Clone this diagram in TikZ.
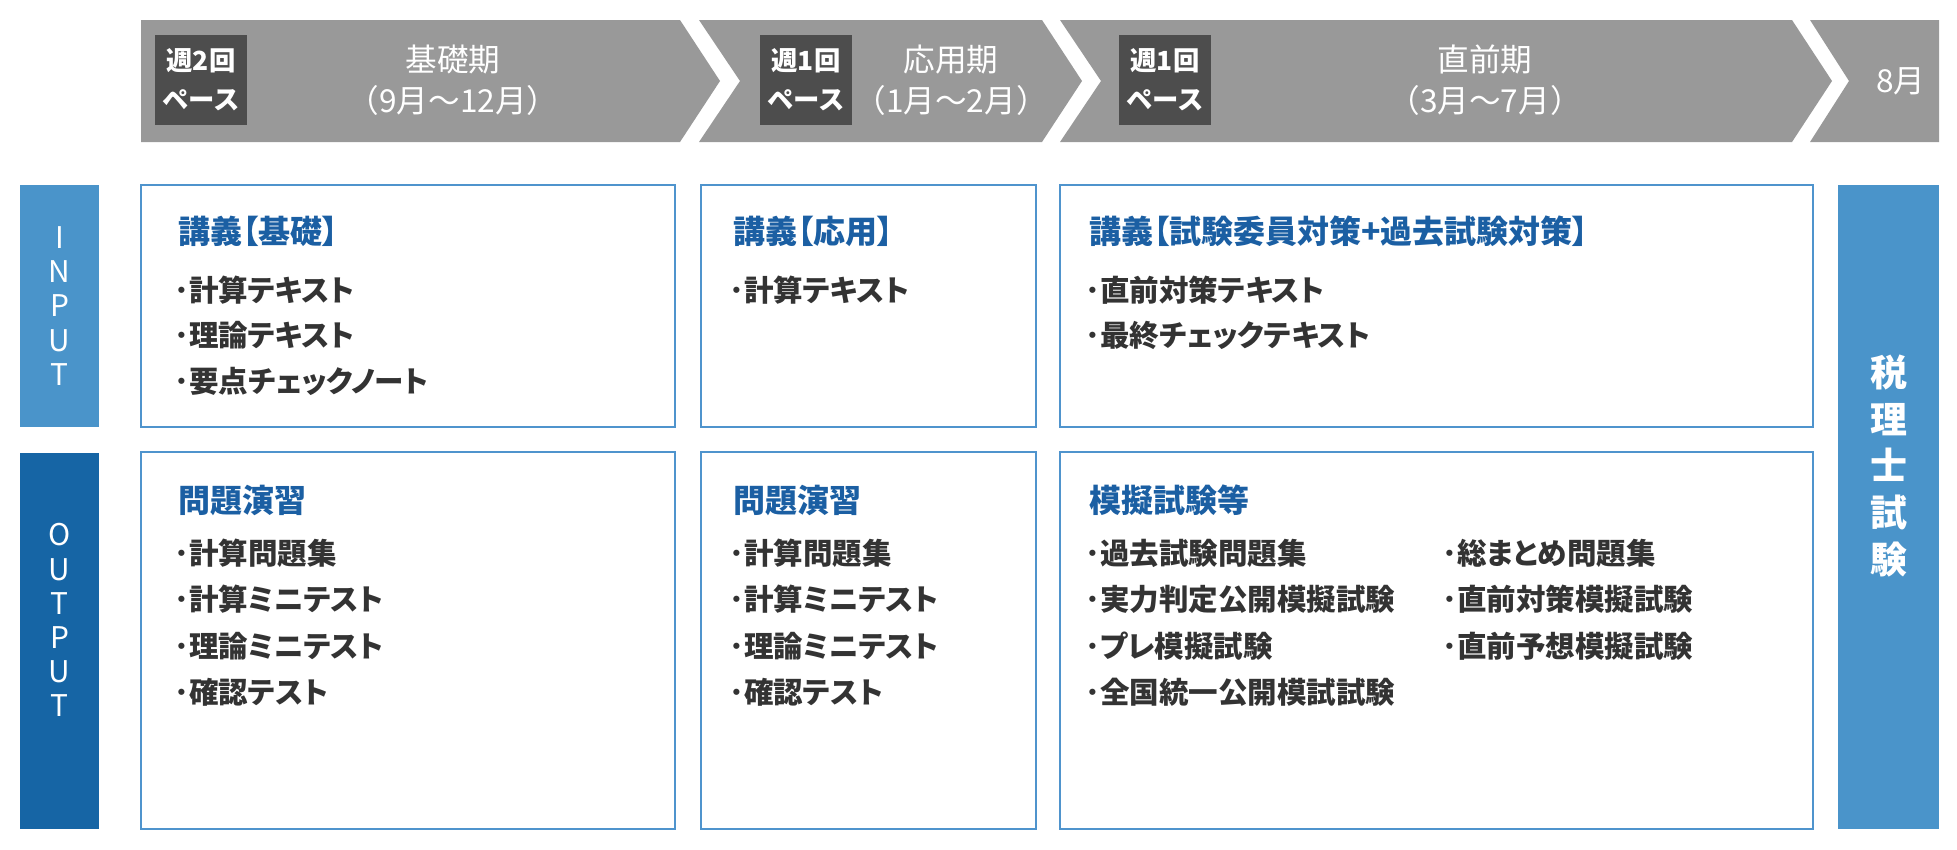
\documentclass[tikz,border=0pt]{standalone}
\usepackage{fontspec}
\setmainfont{Noto Sans CJK JP}
\newfontfamily\propjp[RawFeature=+palt]{Noto Sans CJK JP}
\usetikzlibrary{positioning}

\definecolor{bandgray}{HTML}{999999}
\definecolor{pacegray}{HTML}{4D4D4D}
\definecolor{inblue}{HTML}{4A94CA}
\definecolor{outblue}{HTML}{1665A5}
\definecolor{frameblue}{HTML}{4F94CD}
\definecolor{titleblue}{HTML}{1B5FA3}
\definecolor{itemgray}{HTML}{333333}

\begin{document}
\begin{tikzpicture}[
    x=0.02cm, y=-0.02cm,
    node distance=0.91cm,
    phase/.style={fill=bandgray},
    pace/.style={rectangle, fill=pacegray, text=white, minimum width=1.84cm, minimum height=1.82cm, inner sep=0, align=center, font=\bfseries\fontsize{15}{22}\selectfont},
    stage/.style={text=white, align=center, font=\fontsize{18}{23.5}\selectfont},
    sidebar/.style={rectangle, text=white, inner sep=0, align=center},
    panel/.style={rectangle, draw=frameblue, line width=1.2pt, fill=white, inner sep=0},
    heading/.style={anchor=west, inner sep=0, text=titleblue, font=\propjp\bfseries\fontsize{18.2}{20}\selectfont},
    item/.style={anchor=west, inner sep=0, text=itemgray, font=\propjp\bfseries\fontsize{16.8}{20}\selectfont, text height=0.48cm, text depth=0.1cm}
]

\useasboundingbox[fill=white] (0,0) rectangle (1957,849);

% Timeline band
\fill[phase] (141,20) -- (680,20) -- (720,81) -- (680,142) -- (141,142) -- cycle;
\fill[phase] (699,20) -- (1042,20) -- (1082,81) -- (1042,142) -- (699,142) -- (740,81) -- cycle;
\fill[phase] (1060,20) -- (1792,20) -- (1832,81) -- (1792,142) -- (1060,142) -- (1101,81) -- cycle;
\fill[phase] (1810,20) -- (1939,20) -- (1939,142) -- (1810,142) -- (1849,81) -- cycle;

\node[pace] (pace1) at (201,80) {週2回\\ペース};
\node[pace] (pace2) at (806,80) {週1回\\ペース};
\node[pace] (pace3) at (1165,80) {週1回\\ペース};

\node[stage] (basic) at (453,80) {基礎期\\（9月～12月）};
\node[stage] (apply) at (951,80) {応用期\\（1月～2月）};
\node[stage] (final) at (1485,80) {直前期\\（3月～7月）};
\node[stage] (exam_month) at (1901,81) {8月};

% Side labels
\node[sidebar, fill=inblue, minimum width=1.58cm, minimum height=4.84cm] (input) at (59.5,306) {};
\node[sidebar, fill=outblue, minimum width=1.58cm, minimum height=7.54cm] (output) at (59.5,641) {};
\node[sidebar, fill=inblue, minimum width=2.02cm, minimum height=12.88cm] (exam) at (1888.5,507) {};

\node[text=white, align=center, font=\fontsize{17}{19.4}\selectfont] (input_txt) at (input) {I\\N\\P\\U\\T};
\node[text=white, align=center, font=\fontsize{17}{19.4}\selectfont] (output_txt) at (59.5,620) {O\\U\\T\\P\\U\\T};
\node[text=white, align=center, font=\bfseries\fontsize{21}{26.6}\selectfont] (exam_txt) at (1889,466) {税\\理\\士\\試\\験};

% Panels
\node[panel, minimum width=10.68cm, minimum height=4.84cm] (in_basic) at (408,306) {};
\node[panel, minimum width=10.68cm, minimum height=7.54cm] (out_basic) at (408,640.5) {};
\node[panel, minimum width=6.7cm, minimum height=4.84cm] (in_apply) at (868.5,306) {};
\node[panel, minimum width=6.7cm, minimum height=7.54cm] (out_apply) at (868.5,640.5) {};
\node[panel, minimum width=15.06cm, minimum height=4.84cm] (in_final) at (1436.5,306) {};
\node[panel, minimum width=15.06cm, minimum height=7.54cm] (out_final) at (1436.5,640.5) {};

% Basic period
\node[heading] (in_basic_h) at (178,231) {講義【基礎】};
\node[item] (in_basic_1) at (174,292) {･計算テキスト};
\node[item, below=of in_basic_1.west, anchor=west] (in_basic_2) {･理論テキスト};
\node[item, below=of in_basic_2.west, anchor=west] (in_basic_3) {･要点チェックノート};

\node[heading] (out_basic_h) at (178,500) {問題演習};
\node[item] (out_basic_1) at (174,555) {･計算問題集};
\node[item, below=0.93cm of out_basic_1.west, anchor=west] (out_basic_2) {･計算ミニテスト};
\node[item, below=0.93cm of out_basic_2.west, anchor=west] (out_basic_3) {･理論ミニテスト};
\node[item, below=0.93cm of out_basic_3.west, anchor=west] (out_basic_4) {･確認テスト};

% Applied period
\node[heading] (in_apply_h) at (733,231) {講義【応用】};
\node[item] (in_apply_1) at (729,292) {･計算テキスト};

\node[heading] (out_apply_h) at (733,500) {問題演習};
\node[item] (out_apply_1) at (729,555) {･計算問題集};
\node[item, below=0.93cm of out_apply_1.west, anchor=west] (out_apply_2) {･計算ミニテスト};
\node[item, below=0.93cm of out_apply_2.west, anchor=west] (out_apply_3) {･理論ミニテスト};
\node[item, below=0.93cm of out_apply_3.west, anchor=west] (out_apply_4) {･確認テスト};

% Final period
\node[heading] (in_final_h) at (1089,231) {講義【試験委員対策+過去試験対策】};
\node[item] (in_final_1) at (1085,292) {･直前対策テキスト};
\node[item, below=of in_final_1.west, anchor=west] (in_final_2) {･最終チェックテキスト};

\node[heading] (out_final_h) at (1089,500) {模擬試験等};
\node[item] (out_final_1) at (1085,555) {･過去試験問題集};
\node[item, below=0.93cm of out_final_1.west, anchor=west] (out_final_2) {･実力判定公開模擬試験};
\node[item, below=0.93cm of out_final_2.west, anchor=west] (out_final_3) {･プレ模擬試験};
\node[item, below=0.93cm of out_final_3.west, anchor=west] (out_final_4) {･全国統一公開模試試験};
\node[item] (out_final_5) at (1442,555) {･総まとめ問題集};
\node[item, below=0.93cm of out_final_5.west, anchor=west] (out_final_6) {･直前対策模擬試験};
\node[item, below=0.93cm of out_final_6.west, anchor=west] (out_final_7) {･直前予想模擬試験};

\end{tikzpicture}
\end{document}
